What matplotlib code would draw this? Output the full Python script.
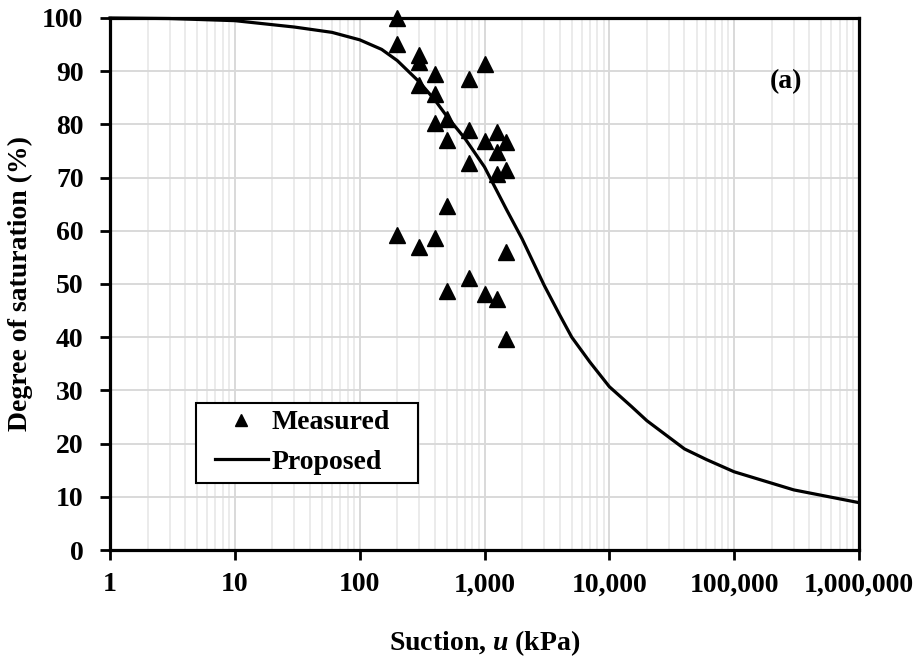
import matplotlib
matplotlib.use("Agg")
import matplotlib.pyplot as plt
from matplotlib.lines import Line2D
from matplotlib.patches import Rectangle
from matplotlib.ticker import FixedLocator, LogLocator, NullFormatter

plt.rcParams['font.family'] = ['Liberation Serif', 'DejaVu Serif']
plt.rcParams['font.weight'] = 'bold'
plt.rcParams['mathtext.fontset'] = 'custom'
plt.rcParams['mathtext.it'] = 'Liberation Serif:italic:bold'
plt.rcParams['mathtext.rm'] = 'Liberation Serif:bold'

# Measured suction (kPa) and degree of saturation (%)
measured_suction = [
    200, 200, 200,
    300, 300, 300, 300,
    400, 400, 400, 400,
    500, 500, 500, 500,
    750, 750, 750, 750,
    1000, 1000, 1000,
    1250, 1250, 1250, 1250,
    1500, 1500, 1500, 1500,
]
measured_saturation = [
    100.0, 95.2, 59.2,
    93.0, 91.8, 87.4, 56.9,
    89.5, 85.8, 80.2, 58.6,
    81.0, 77.1, 64.7, 48.6,
    88.5, 78.9, 72.7, 51.1,
    91.3, 76.9, 48.1,
    78.6, 74.9, 70.7, 47.2,
    76.7, 71.5, 56.1, 39.7,
]

# Proposed soil-water characteristic curve
proposed_suction = [1, 3, 10, 30, 60, 100, 150, 200, 300, 400, 500, 700,
                    1000, 1500, 2000, 3000, 4000, 5000, 7000, 10000, 15000,
                    20000, 40000, 60000, 100000, 300000, 1000000]
proposed_saturation = [100.0, 99.9, 99.5, 98.3, 97.3, 95.9, 94.1, 92.0, 88.0,
                       84.6, 81.5, 77.3, 72.0, 64.0, 58.5, 49.8, 44.2, 40.0,
                       35.3, 30.7, 27.0, 24.3, 19.0, 17.0, 14.7, 11.3, 8.9]

x_ticks = [1, 10, 100, 1000, 10000, 100000, 1000000]
x_tick_labels = ['1', '10', '100', '1,000', '10,000', '100,000', '1,000,000']
y_ticks = list(range(0, 101, 10))

fig = plt.figure(figsize=(9.21, 6.63), dpi=100)
ax = fig.add_axes([110 / 921, 113 / 663, 749 / 921, 532 / 663])

ax.set_xscale('log')
ax.set_xlim(1, 1e6)
ax.set_ylim(0, 100)

ax.xaxis.set_major_locator(FixedLocator(x_ticks))
ax.set_xticklabels(x_tick_labels)
ax.xaxis.set_minor_locator(LogLocator(base=10, subs=range(2, 10), numticks=20))
ax.xaxis.set_minor_formatter(NullFormatter())
ax.set_yticks(y_ticks)

ax.grid(True, which='major', color='#d9d9d9', linewidth=1.4, zorder=0)
ax.grid(True, which='minor', axis='x', color='#ebebeb', linewidth=1.4, zorder=0)
ax.set_axisbelow(True)

ax.plot(proposed_suction, proposed_saturation, color='black', linewidth=2.3,
        zorder=3, clip_on=False)
ax.plot(measured_suction, measured_saturation, linestyle='none', marker='^',
        markersize=11, color='black', zorder=4, clip_on=False)

for side in ['left', 'right', 'top', 'bottom']:
    ax.spines[side].set_linewidth(2.3)
    ax.spines[side].set_color('black')

ax.tick_params(axis='both', which='major', direction='out', length=7,
               width=2, labelsize=20, color='black')
ax.tick_params(axis='x', which='major', pad=9)
ax.tick_params(axis='y', which='major', pad=12)
ax.tick_params(axis='x', which='minor', length=0)
for lab in ax.get_xticklabels() + ax.get_yticklabels():
    lab.set_fontweight('bold')

ax.set_ylabel('Degree of saturation (%)', fontsize=20, fontweight='bold',
              labelpad=7)
ax.set_xlabel(r'Suction, $u$ (kPa)', fontsize=20, fontweight='bold',
              labelpad=22)

ax.text(0.9025, 0.88, '(a)', transform=ax.transAxes, fontsize=20,
        fontweight='bold', ha='center', va='center')

# Legend box drawn as its own rectangle so the padding can be set freely
ax.add_patch(Rectangle((86 / 749, 67 / 532), 222 / 749, 80 / 532,
                       transform=ax.transAxes, facecolor='white',
                       edgecolor='black', linewidth=1.5, zorder=5))
handles = [
    Line2D([], [], linestyle='none', marker='^', markersize=9, color='black'),
    Line2D([], [], color='black', linewidth=2.3),
]
leg = ax.legend(handles, ['Measured', 'Proposed'], loc='upper left',
                bbox_to_anchor=(105 / 749, 140 / 532), fontsize=20,
                frameon=False, handlelength=1.9, handletextpad=0.15,
                borderpad=0, labelspacing=0.5, borderaxespad=0)
leg.set_zorder(6)
for t in leg.get_texts():
    t.set_fontweight('bold')

fig.savefig('out.png', dpi=100)
